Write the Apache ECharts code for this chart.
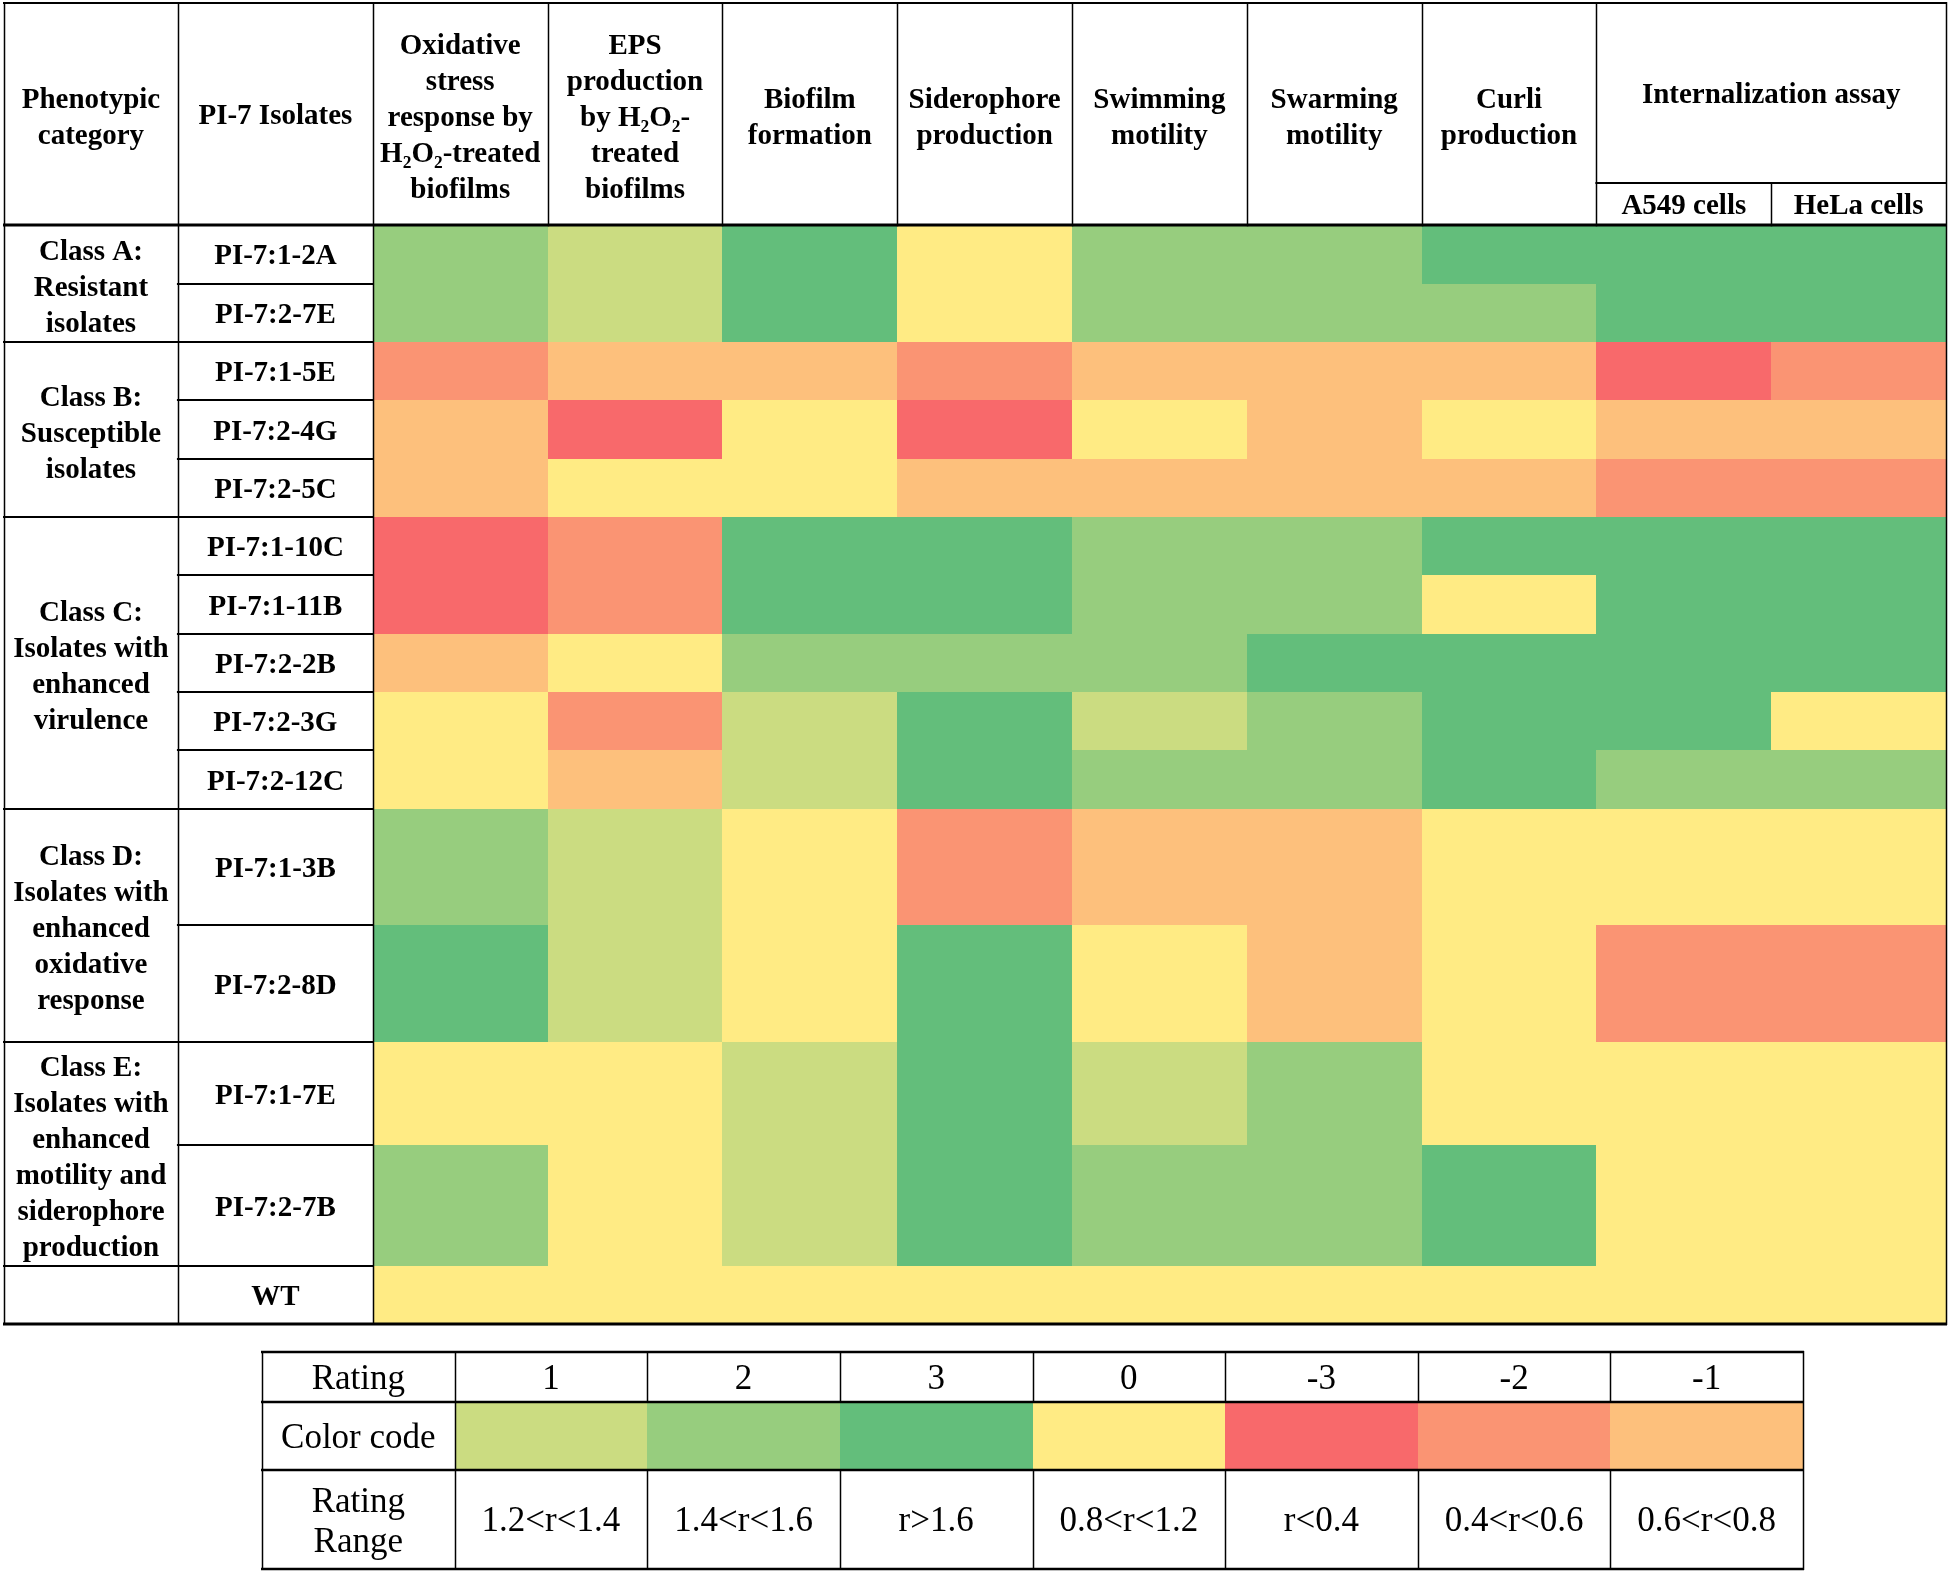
<!DOCTYPE html>
<html>
<head>
<meta charset="utf-8">
<script src="https://cdn.jsdelivr.net/npm/echarts@6/dist/echarts.min.js"></script>
<style>
html,body{margin:0;padding:0;background:#ffffff;}
#chart{width:1950px;height:1575px;}
</style>
</head>
<body>
<div id="chart"></div>
<script>
// ================= DATA =================
const leftHeaders = ['Phenotypic\ncategory', 'PI-7 Isolates'];
const traits = [
  'Oxidative\nstress\nresponse by\nH\u2082O\u2082-treated\nbiofilms',
  'EPS\nproduction\nby H\u2082O\u2082-\ntreated\nbiofilms',
  'Biofilm\nformation',
  'Siderophore\nproduction',
  'Swimming\nmotility',
  'Swarming\nmotility',
  'Curli\nproduction',
  'A549 cells',
  'HeLa cells'
];
const groupHeader = 'Internalization assay';
const groupStart = 7; // first trait under the group header
const isolates = [
  'PI-7:1-2A', 'PI-7:2-7E',
  'PI-7:1-5E', 'PI-7:2-4G', 'PI-7:2-5C',
  'PI-7:1-10C', 'PI-7:1-11B', 'PI-7:2-2B', 'PI-7:2-3G', 'PI-7:2-12C',
  'PI-7:1-3B', 'PI-7:2-8D',
  'PI-7:1-7E', 'PI-7:2-7B',
  'WT'
];
const classLabels = [
  'Class A:\nResistant\nisolates',
  'Class B:\nSusceptible\nisolates',
  'Class C:\nIsolates with\nenhanced\nvirulence',
  'Class D:\nIsolates with\nenhanced\noxidative\nresponse',
  'Class E:\nIsolates with\nenhanced\nmotility and\nsiderophore\nproduction',
  ''
];
const classSizes = [2, 3, 5, 2, 2, 1];
// ratings: rows = isolates, columns = traits
const ratings = [
  [ 2,  1,  3,  0,  2,  2,  3,  3,  3],
  [ 2,  1,  3,  0,  2,  2,  2,  3,  3],
  [-2, -1, -1, -2, -1, -1, -1, -3, -2],
  [-1, -3,  0, -3,  0, -1,  0, -1, -1],
  [-1,  0,  0, -1, -1, -1, -1, -2, -2],
  [-3, -2,  3,  3,  2,  2,  3,  3,  3],
  [-3, -2,  3,  3,  2,  2,  0,  3,  3],
  [-1,  0,  2,  2,  2,  3,  3,  3,  3],
  [ 0, -2,  1,  3,  1,  2,  3,  3,  0],
  [ 0, -1,  1,  3,  2,  2,  3,  2,  2],
  [ 2,  1,  0, -2, -1, -1,  0,  0,  0],
  [ 3,  1,  0,  3,  0, -1,  0, -2, -2],
  [ 0,  0,  1,  3,  1,  2,  0,  0,  0],
  [ 2,  0,  1,  3,  2,  2,  3,  0,  0],
  [ 0,  0,  0,  0,  0,  0,  0,  0,  0]
];
const legendRowLabels = ['Rating', 'Color code', 'Rating\nRange'];
const legendRatings = [1, 2, 3, 0, -3, -2, -1];
const legendRanges = ['1.2<r<1.4', '1.4<r<1.6', 'r>1.6', '0.8<r<1.2', 'r<0.4', '0.4<r<0.6', '0.6<r<0.8'];

// ================= STYLE / LAYOUT =================
const ratingColors = {
  '-3': '#F8696B', '-2': '#FA9473', '-1': '#FDC07C', '0': '#FFEB84',
  '1': '#CBDC81', '2': '#97CD7E', '3': '#63BE7B'
};
const rowUnits = [1, 1, 1, 1, 1, 1, 1, 1, 1, 1, 2, 2, 1.77, 2.06, 1];
const HEAD = 3.81;     // header height in row units
const SUB = 0.72;      // sub-header height in row units
const XL0 = -2.11;     // left edge of category column
const XL1 = -1.115;    // left edge of isolate column
const legendRowUnits = [1, 1.36, 1.98];
const FONT = '"Liberation Serif", "Times New Roman", serif';

const rowTop = [];
let acc = 0;
rowUnits.forEach(u => { rowTop.push(acc); acc += u; });
const totalUnits = acc;
const nCols = traits.length;

const legTop = [];
let lacc = 0;
legendRowUnits.forEach(u => { legTop.push(lacc); lacc += u; });
const legTotal = lacc;

// ---- cells ----
const cellData = [];
ratings.forEach((row, r) => row.forEach((v, c) => cellData.push([c, r, v])));

// ---- table texts ----
const tTexts = [];
const tPos = [];
function addT(x, y, text, size) { tPos.push([x, y]); tTexts.push({ text: text, size: size }); }
addT((XL0 + XL1) / 2, -HEAD / 2, leftHeaders[0], 29);
addT(XL1 / 2, -HEAD / 2, leftHeaders[1], 29);
traits.forEach((t, i) => {
  if (i < groupStart) addT(i + 0.5, -HEAD / 2, t, 29);
  else addT(i + 0.5, -SUB / 2, t, 29);
});
addT((groupStart + nCols) / 2, -(HEAD + SUB) / 2, groupHeader, 29);
isolates.forEach((s, r) => addT(XL1 / 2, rowTop[r] + rowUnits[r] / 2, s, 29));
let ci = 0;
classSizes.forEach((n, k) => {
  const y0 = rowTop[ci];
  const y1 = rowTop[ci + n - 1] + rowUnits[ci + n - 1];
  if (classLabels[k]) addT((XL0 + XL1) / 2, (y0 + y1) / 2, classLabels[k], 29);
  ci += n;
});

// ---- legend texts ----
const lTexts = [];
const lPos = [];
function addL(x, y, text) { lPos.push([x, y]); lTexts.push(text); }
legendRowLabels.forEach((s, r) => addL(0.5, legTop[r] + legendRowUnits[r] / 2, s));
legendRatings.forEach((v, i) => addL(i + 1.5, legTop[0] + legendRowUnits[0] / 2, String(v)));
legendRanges.forEach((s, i) => addL(i + 1.5, legTop[2] + legendRowUnits[2] / 2, s));
const legendCells = legendRatings.map((v, i) => [i + 1, 1, v]);

function rectRender(topArr, unitArr) {
  return function (params, api) {
    const c = api.value(0), r = api.value(1), v = api.value(2);
    const p0 = api.coord([c, topArr[r]]);
    const p1 = api.coord([c + 1, topArr[r] + unitArr[r]]);
    const x0 = Math.round(p0[0]), y0 = Math.round(p0[1]);
    const x1 = Math.round(p1[0]), y1 = Math.round(p1[1]);
    return {
      type: 'rect',
      shape: { x: x0, y: y0, width: x1 - x0 + 0.6, height: y1 - y0 + 0.6 },
      style: { fill: ratingColors[String(v)] }
    };
  };
}

function lineMaker(api, ch) {
  return {
    H: function (y, xa, xb, w) {
      const a = api.coord([xa, y]), b = api.coord([xb, y]);
      const yy = Math.round(a[1]);
      ch.push({ type: 'line', shape: { x1: a[0] - 1, y1: yy, x2: b[0] + 1, y2: yy }, style: { stroke: '#000', lineWidth: w } });
    },
    V: function (x, ya, yb, w) {
      const a = api.coord([x, ya]), b = api.coord([x, yb]);
      const xx = Math.round(a[0]) + 0.5;
      ch.push({ type: 'line', shape: { x1: xx, y1: a[1] - 1, x2: xx, y2: b[1] + 1 }, style: { stroke: '#000', lineWidth: w } });
    }
  };
}

function frameRender(params, api) {
  const ch = [];
  const L = lineMaker(api, ch);
  const HW = 2.2, VW = 1.5;
  // verticals
  L.V(XL0, -HEAD, totalUnits, VW);
  L.V(XL1, -HEAD, totalUnits, VW);
  L.V(0, -HEAD, totalUnits, VW);
  L.V(nCols, -HEAD, totalUnits, VW);
  for (let i = 1; i < nCols; i++) {
    if (i < groupStart) L.V(i, -HEAD, 0, VW);
    else if (i > groupStart) L.V(i, -SUB, 0, VW);
  }
  L.V(groupStart, -HEAD, 0, VW);
  // horizontals
  L.H(-HEAD, XL0, nCols, HW);
  L.H(0, XL0, nCols, HW + 0.6);
  L.H(totalUnits, XL0, nCols, HW + 0.6);
  L.H(-SUB, groupStart, nCols, HW);
  let r = 0;
  classSizes.forEach((n, k) => {
    for (let j = 1; j < n; j++) L.H(rowTop[r + j], XL1, 0, HW);
    r += n;
    if (r < isolates.length) L.H(rowTop[r], XL0, 0, HW);
  });
  return { type: 'group', children: ch };
}

function legendFrameRender(params, api) {
  const ch = [];
  const L = lineMaker(api, ch);
  const HW = 2.6, VW = 1.5;
  for (let i = 0; i <= legendRatings.length + 1; i++) {
    const edge = (i === 0 || i === 1 || i === legendRatings.length + 1);
    if (edge) L.V(i, 0, legTotal, VW);
    else { L.V(i, legTop[0], legTop[1], VW); L.V(i, legTop[2], legTotal, VW); }
  }
  legTop.forEach(y => L.H(y, 0, legendRatings.length + 1, HW));
  L.H(legTotal, 0, legendRatings.length + 1, HW);
  return { type: 'group', children: ch };
}

function tableTextRender(params, api) {
  const p = api.coord([api.value(0), api.value(1)]);
  const t = tTexts[params.dataIndex];
  const multi = t.text.indexOf('\n') >= 0;
  return {
    type: 'text', x: p[0], y: p[1] + (multi ? 4.5 : 2.5),
    style: {
      text: t.text, fill: '#000', fontFamily: FONT, fontWeight: 'bold', fontSize: t.size,
      lineHeight: 36, align: 'center', verticalAlign: 'middle'
    }
  };
}

function legendTextRender(params, api) {
  const p = api.coord([api.value(0), api.value(1)]);
  const txt = lTexts[params.dataIndex];
  const multi = txt.indexOf('\n') >= 0;
  return {
    type: 'text', x: p[0], y: p[1] + (multi ? 3.5 : 2.5),
    style: {
      text: txt, fill: '#000', fontFamily: FONT, fontWeight: 'normal', fontSize: 35,
      lineHeight: 40, align: 'center', verticalAlign: 'middle'
    }
  };
}

const chart = echarts.init(document.getElementById('chart'), null, { renderer: 'canvas', width: 1950, height: 1575 });
chart.setOption({
  backgroundColor: '#ffffff',
  animation: false,
  grid: [
    { left: 4, right: 4, top: 3, height: 1321, containLabel: false },
    { left: 262, top: 1352, width: 1541, height: 217, containLabel: false }
  ],
  xAxis: [
    { type: 'value', gridIndex: 0, min: XL0, max: nCols, show: false },
    { type: 'value', gridIndex: 1, min: 0, max: legendRatings.length + 1, show: false }
  ],
  yAxis: [
    { type: 'value', gridIndex: 0, min: -HEAD, max: totalUnits, inverse: true, show: false },
    { type: 'value', gridIndex: 1, min: 0, max: legTotal, inverse: true, show: false }
  ],
  series: [
    { type: 'custom', name: 'cells', xAxisIndex: 0, yAxisIndex: 0, data: cellData, renderItem: rectRender(rowTop, rowUnits), silent: true, z: 1 },
    { type: 'custom', name: 'frame', xAxisIndex: 0, yAxisIndex: 0, data: [[0, 0]], renderItem: frameRender, silent: true, z: 3 },
    { type: 'custom', name: 'tableText', xAxisIndex: 0, yAxisIndex: 0, data: tPos, renderItem: tableTextRender, silent: true, z: 4 },
    { type: 'custom', name: 'legendCells', xAxisIndex: 1, yAxisIndex: 1, data: legendCells, renderItem: rectRender(legTop, legendRowUnits), silent: true, z: 1 },
    { type: 'custom', name: 'legendFrame', xAxisIndex: 1, yAxisIndex: 1, data: [[0, 0]], renderItem: legendFrameRender, silent: true, z: 3 },
    { type: 'custom', name: 'legendText', xAxisIndex: 1, yAxisIndex: 1, data: lPos, renderItem: legendTextRender, silent: true, z: 4 }
  ]
});
</script>
</body>
</html>
